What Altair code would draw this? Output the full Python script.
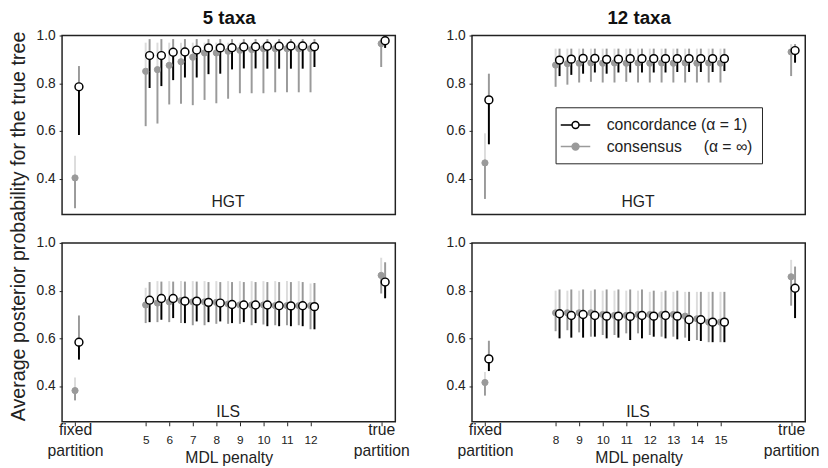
import altair as alt
import pandas as pd

FONT = "Liberation Sans"
GREY = "#9a9a9a"
CONC = "concordance (\u03b1 = 1)"
CONS = "consensus" + "\u00a0" * 5 + "(\u03b1 = \u221e)"

# x positions: fixed partition, MDL penalties (half steps), true partition
penalty_5 = [5, 5.5, 6, 6.5, 7, 7.5, 8, 8.5, 9, 9.5, 10, 10.5, 11, 11.5, 12]
penalty_12 = [8, 8.5, 9, 9.5, 10, 10.5, 11, 11.5, 12, 12.5, 13, 13.5, 14, 14.5, 15]
fixed_5, true_5 = 2, 15
fixed_12, true_12 = 5, 18
ticks_5 = [2, 5, 6, 7, 8, 9, 10, 11, 12, 15]
ticks_12 = [5, 8, 9, 10, 11, 12, 13, 14, 15, 18]

# each list: [fixed partition, 15 MDL penalties..., true partition]
hgt5_conc_mean = [0.785, 0.916, 0.916, 0.930, 0.931, 0.939, 0.948, 0.948, 0.949, 0.952, 0.953, 0.955, 0.955, 0.956, 0.956, 0.953, 0.978]
hgt5_conc_lo = [0.583, 0.780, 0.788, 0.813, 0.824, 0.824, 0.838, 0.840, 0.858, 0.862, 0.862, 0.861, 0.861, 0.861, 0.861, 0.868, 0.948]
hgt5_conc_hi = [0.872, 0.985, 0.985, 0.985, 0.985, 0.985, 0.985, 0.985, 0.985, 0.985, 0.985, 0.985, 0.985, 0.985, 0.985, 0.985, 0.995]
hgt5_cons_mean = [0.403, 0.850, 0.857, 0.875, 0.890, 0.909, 0.927, 0.927, 0.934, 0.938, 0.941, 0.945, 0.945, 0.945, 0.945, 0.945, 0.966]
hgt5_cons_lo = [0.276, 0.620, 0.631, 0.711, 0.714, 0.708, 0.730, 0.716, 0.735, 0.758, 0.758, 0.758, 0.762, 0.762, 0.762, 0.762, 0.868]
hgt5_cons_hi = [0.496, 0.970, 0.970, 0.970, 0.970, 0.970, 0.970, 0.970, 0.970, 0.970, 0.970, 0.970, 0.970, 0.970, 0.970, 0.970, 0.990]

hgt12_conc_mean = [0.730, 0.897, 0.901, 0.904, 0.904, 0.900, 0.901, 0.903, 0.903, 0.903, 0.903, 0.903, 0.903, 0.903, 0.903, 0.903, 0.937]
hgt12_conc_lo = [0.544, 0.830, 0.835, 0.840, 0.845, 0.840, 0.845, 0.845, 0.845, 0.845, 0.845, 0.847, 0.847, 0.847, 0.847, 0.851, 0.886]
hgt12_conc_hi = [0.840, 0.945, 0.945, 0.945, 0.945, 0.945, 0.945, 0.945, 0.945, 0.945, 0.945, 0.945, 0.945, 0.945, 0.945, 0.945, 0.964]
hgt12_cons_mean = [0.466, 0.876, 0.882, 0.884, 0.885, 0.884, 0.885, 0.884, 0.885, 0.884, 0.885, 0.884, 0.885, 0.884, 0.885, 0.884, 0.931]
hgt12_cons_lo = [0.315, 0.785, 0.794, 0.803, 0.806, 0.803, 0.803, 0.806, 0.803, 0.803, 0.803, 0.803, 0.803, 0.803, 0.803, 0.803, 0.830]
hgt12_cons_hi = [0.590, 0.945, 0.945, 0.945, 0.945, 0.945, 0.945, 0.945, 0.945, 0.945, 0.945, 0.945, 0.945, 0.945, 0.945, 0.945, 0.964]

ils5_conc_mean = [0.584, 0.760, 0.767, 0.767, 0.756, 0.756, 0.751, 0.748, 0.742, 0.740, 0.740, 0.740, 0.737, 0.736, 0.737, 0.733, 0.836]
ils5_conc_lo = [0.511, 0.668, 0.678, 0.685, 0.664, 0.671, 0.668, 0.671, 0.664, 0.668, 0.664, 0.651, 0.651, 0.651, 0.651, 0.638, 0.768]
ils5_conc_hi = [0.696, 0.836, 0.838, 0.838, 0.838, 0.838, 0.836, 0.836, 0.836, 0.836, 0.836, 0.836, 0.836, 0.836, 0.836, 0.832, 0.919]
ils5_cons_mean = [0.381, 0.740, 0.748, 0.753, 0.758, 0.753, 0.753, 0.751, 0.744, 0.740, 0.740, 0.740, 0.737, 0.737, 0.737, 0.737, 0.864]
ils5_cons_lo = [0.340, 0.664, 0.668, 0.668, 0.664, 0.655, 0.655, 0.661, 0.661, 0.661, 0.655, 0.658, 0.655, 0.655, 0.655, 0.638, 0.788]
ils5_cons_hi = [0.436, 0.812, 0.840, 0.840, 0.840, 0.840, 0.840, 0.840, 0.840, 0.840, 0.840, 0.840, 0.840, 0.840, 0.840, 0.830, 0.938]

ils12_conc_mean = [0.514, 0.703, 0.696, 0.700, 0.696, 0.693, 0.693, 0.692, 0.696, 0.693, 0.696, 0.693, 0.678, 0.678, 0.668, 0.668, 0.810]
ils12_conc_lo = [0.463, 0.600, 0.603, 0.603, 0.607, 0.600, 0.603, 0.593, 0.600, 0.607, 0.600, 0.596, 0.589, 0.589, 0.584, 0.584, 0.685]
ils12_conc_hi = [0.590, 0.805, 0.805, 0.805, 0.805, 0.805, 0.805, 0.805, 0.805, 0.800, 0.800, 0.800, 0.795, 0.795, 0.795, 0.795, 0.901]
ils12_cons_mean = [0.415, 0.707, 0.707, 0.707, 0.707, 0.700, 0.696, 0.696, 0.700, 0.700, 0.700, 0.700, 0.693, 0.682, 0.668, 0.668, 0.858]
ils12_cons_lo = [0.360, 0.630, 0.634, 0.625, 0.607, 0.614, 0.614, 0.621, 0.621, 0.614, 0.607, 0.607, 0.603, 0.593, 0.584, 0.584, 0.737]
ils12_cons_hi = [0.459, 0.800, 0.800, 0.800, 0.800, 0.800, 0.800, 0.800, 0.800, 0.795, 0.795, 0.795, 0.795, 0.795, 0.795, 0.795, 0.929]

panel_labels = ["HGT", "HGT", "ILS", "ILS"]
label_x = [8.5, 11.5, 8.5, 11.5]
label_y = [0.30, 0.30, 0.29, 0.29]
column_titles = ["5 taxa", "12 taxa"]


def make_df(pos, cm, cl, ch, sm, sl, sh):
    rows = []
    for i, p in enumerate(pos):
        rows.append({"pos": p, "series": CONS, "mean": sm[i], "lo": sl[i], "hi": sh[i]})
    for i, p in enumerate(pos):
        rows.append({"pos": p, "series": CONC, "mean": cm[i], "lo": cl[i], "hi": ch[i]})
    return pd.DataFrame(rows)


pos5 = [fixed_5] + penalty_5 + [true_5]
pos12 = [fixed_12] + penalty_12 + [true_12]

df_tl = make_df(pos5, hgt5_conc_mean, hgt5_conc_lo, hgt5_conc_hi, hgt5_cons_mean, hgt5_cons_lo, hgt5_cons_hi)
df_tr = make_df(pos12, hgt12_conc_mean, hgt12_conc_lo, hgt12_conc_hi, hgt12_cons_mean, hgt12_cons_lo, hgt12_cons_hi)
df_bl = make_df(pos5, ils5_conc_mean, ils5_conc_lo, ils5_conc_hi, ils5_cons_mean, ils5_cons_lo, ils5_cons_hi)
df_br = make_df(pos12, ils12_conc_mean, ils12_conc_lo, ils12_conc_hi, ils12_cons_mean, ils12_cons_lo, ils12_cons_hi)

W, H = 339, 182
SYMBOL = "M-1.59,0L-0.15,0M0.73,0L2.16,0M-0.15,0A0.44,0.44,0,1,1,0.73,0A0.44,0.44,0,1,1,-0.15,0Z"


def panel(df, idx, xdom, ticks, fixed, true, bottom=False, legend=False, col_title=None):
    xs = alt.Scale(domain=xdom, nice=False, zero=False)
    ys = alt.Scale(domain=[0.25, 1.0], nice=False, zero=False)
    if bottom:
        edge = f"datum.value == {fixed} || datum.value == {true}"
        xaxis = alt.Axis(
            values=ticks, grid=False, domain=False, tickSize=4, tickColor="#222",
            labelExpr=(f"datum.value == {fixed} ? ['fixed', 'partition'] : "
                       f"(datum.value == {true} ? ['true', 'partition'] : format(datum.value, 'd'))"),
            labelFontSize={"condition": {"test": edge, "value": 16}, "value": 12},
            labelPadding={"condition": {"test": edge, "value": -4}, "value": 9},
            labelLineHeight=21, labelFlush=False, labelOverlap=False, labelBaseline="top",
            labelFont=FONT, labelColor="#222",
            title="MDL penalty", titleFont=FONT, titleFontSize=16, titleFontWeight="normal",
            titleColor="#222", titleY=41.5, titleBaseline="alphabetic",
        )
        xtitle = "MDL penalty"
    else:
        xaxis = alt.Axis(orient="top", labels=False, ticks=False, domain=False, grid=False,
                         title=col_title, titleFont=FONT, titleFontSize=19, titleFontWeight="bold",
                         titleColor="#111", titleY=-12, titleBaseline="alphabetic")
        xtitle = col_title
    yaxis = alt.Axis(values=[0.4, 0.6, 0.8, 1.0], format=".1f", grid=False, domain=False,
                     tickSize=3, tickColor="#222", labelPadding=4, labelFont=FONT, labelFontSize=14,
                     labelColor="#222", title=None)
    X = alt.X("pos:Q", scale=xs, axis=xaxis, title=xtitle)
    Y = alt.Y("mean:Q", scale=ys, axis=yaxis)
    Ylo = alt.Y("lo:Q", scale=ys, axis=yaxis)
    base = alt.Chart(df)
    cons = base.transform_filter(alt.datum.series == CONS)
    conc = base.transform_filter(alt.datum.series == CONC)

    cons_up = cons.mark_rule(color=GREY, strokeWidth=2, opacity=0.35).encode(x=X, y=Y, y2="hi:Q")
    cons_dn = cons.mark_rule(color=GREY, strokeWidth=2).encode(x=X, y=Ylo, y2="mean:Q")
    conc_up = conc.mark_rule(color="black", strokeWidth=2, opacity=0.4).encode(x=X, xOffset=alt.value(4), y=Y, y2="hi:Q")
    conc_dn = conc.mark_rule(color="black", strokeWidth=2).encode(x=X, xOffset=alt.value(4), y=Ylo, y2="mean:Q")

    if legend:
        leg = alt.Legend(title=None, orient="none", legendX=85, legendY=73,
                         symbolType=SYMBOL, symbolSize=256, symbolStrokeWidth=1.5,
                         labelFont=FONT, labelFontSize=16, labelColor="#222", labelOffset=25,
                         labelLimit=400, fillColor="white", strokeColor="#222",
                         padding=9, rowPadding=5)
    else:
        leg = None
    color = alt.Color("series:N", scale=alt.Scale(domain=[CONC, CONS], range=["black", GREY]), legend=leg)
    fill = alt.Fill("series:N", scale=alt.Scale(domain=[CONC, CONS], range=["white", GREY]), legend=leg)

    cons_pt = cons.mark_point(shape="circle", size=40, strokeWidth=1, opacity=1).encode(
        x=X, y=Y, color=color, fill=fill)
    conc_pt = conc.mark_point(shape="circle", size=64, strokeWidth=1.5, opacity=1).encode(
        x=X, y=Y, xOffset=alt.value(4), color=color, fill=fill)

    lab_df = pd.DataFrame({"pos": [label_x[idx]], "mean": [label_y[idx]], "text": [panel_labels[idx]]})
    lab = alt.Chart(lab_df).mark_text(font=FONT, fontSize=16, color="#222").encode(
        x=X, y=Y, text="text:N")

    return alt.layer(cons_up, cons_dn, conc_up, conc_dn, cons_pt, conc_pt, lab).properties(width=W, height=H)


tl = panel(df_tl, 0, [1.45, 15.6], ticks_5, fixed_5, true_5, col_title=column_titles[0])
tr = panel(df_tr, 1, [4.45, 18.6], ticks_12, fixed_12, true_12, legend=True, col_title=column_titles[1])
bl = panel(df_bl, 2, [1.45, 15.6], ticks_5, fixed_5, true_5, bottom=True)
br = panel(df_br, 3, [4.45, 18.6], ticks_12, fixed_12, true_12, bottom=True)

left = alt.vconcat(tl, bl, spacing=20).resolve_scale(color="independent", fill="independent")
right = alt.vconcat(tr, br, spacing=20).resolve_scale(color="independent", fill="independent")

chart = alt.hconcat(left, right, spacing=35).resolve_scale(color="independent", fill="independent").properties(
    title=alt.TitleParams("Average posterior probability for the true tree", orient="left", anchor="middle",
                          font=FONT, fontSize=20, fontWeight="normal", color="#222", offset=7, dx=11),
    padding={"left": 0, "top": -4, "right": 0, "bottom": 0},
).configure_view(stroke="#222", strokeWidth=1.5)

chart.save("out.html", embed_options={"renderer": "svg", "actions": False})
